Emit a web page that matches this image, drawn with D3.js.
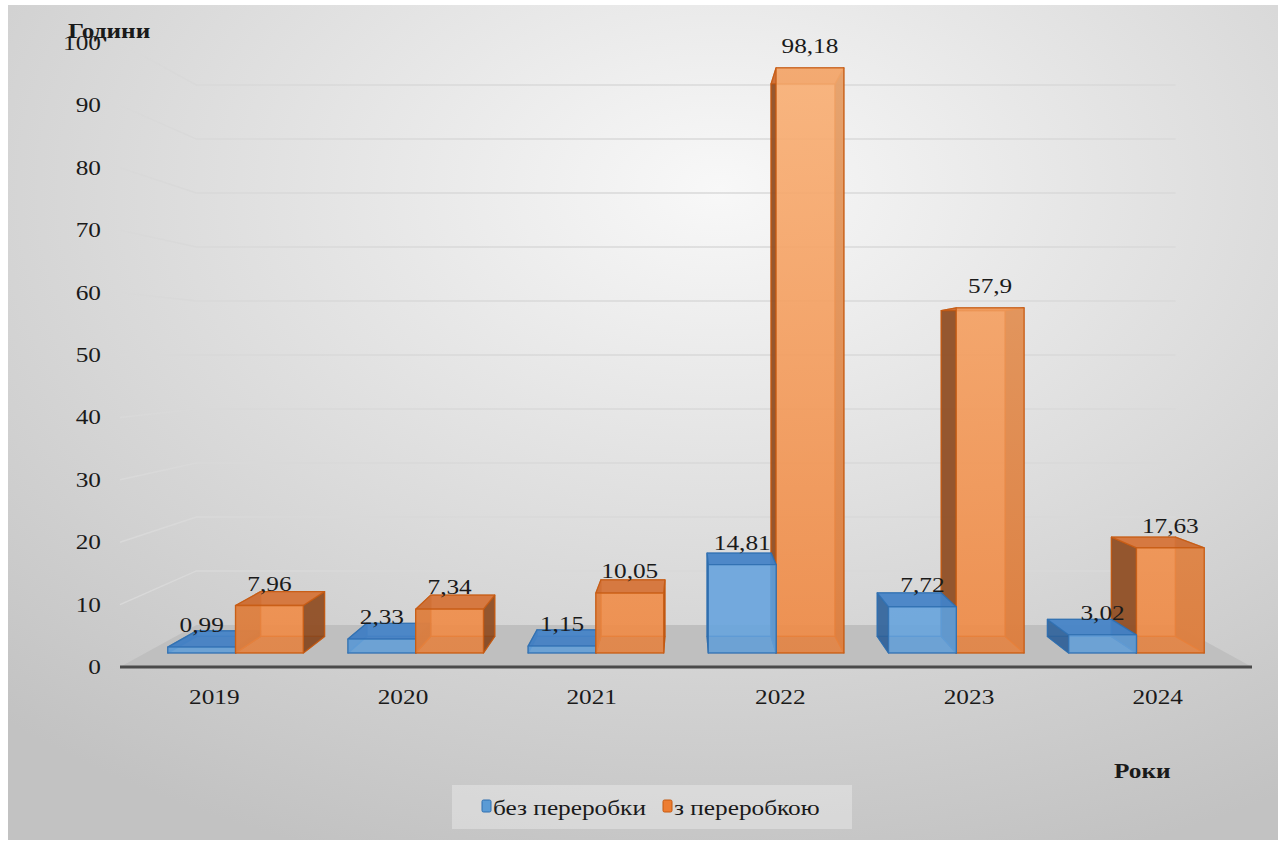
<!DOCTYPE html>
<html>
<head>
<meta charset="utf-8">
<script src="https://cdn.jsdelivr.net/npm/d3@7"></script>
<style>
  body { margin: 0; background: #fff; }
  text { font-family: "Liberation Serif", "Times New Roman", serif; fill: #1a1a1a; }
</style>
</head>
<body>
<div id="chart"></div>
<script>
const width = 1284, height = 843;

// data
const years = ["2019", "2020", "2021", "2022", "2023", "2024"];
const seriesKeys = ["bez", "z"];
const seriesNames = ["без переробки", "з переробкою"];
const withoutProcessing = [0.99, 2.33, 1.15, 14.81, 7.72, 3.02];
const withProcessing = [7.96, 7.34, 10.05, 98.18, 57.9, 17.63];
const yTicks = [0, 10, 20, 30, 40, 50, 60, 70, 80, 90, 100];

// perspective: vanishing point and depth scale of bar faces / back wall
const vx = 686, vy = 355;
const sFront = 0.955, sBack = 0.902, sWall = 0.865;
const stretch = 1.15; // text in the picture is a bit wide

const svg = d3.select("#chart").append("svg")
  .attr("width", width).attr("height", height);

const defs = svg.append("defs");
const bg = defs.append("radialGradient").attr("id", "bg")
  .attr("cx", "56%").attr("cy", "22%").attr("r", "85%");
bg.append("stop").attr("offset", "0%").attr("stop-color", "#f8f8f8");
bg.append("stop").attr("offset", "100%").attr("stop-color", "#c2c2c2");

const og = defs.append("linearGradient").attr("id", "orangeFront")
  .attr("gradientUnits", "userSpaceOnUse")
  .attr("x1", 0).attr("y1", 60).attr("x2", 0).attr("y2", 660);
og.append("stop").attr("offset", "0%").attr("stop-color", "#fab57c");
og.append("stop").attr("offset", "100%").attr("stop-color", "#ef8944");

svg.append("rect")
  .attr("x", 8).attr("y", 5).attr("width", 1270).attr("height", 835)
  .attr("fill", "url(#bg)");

// scales
const x0 = d3.scaleBand().domain(years).range([120, 1252]);
const x1 = d3.scaleBand().domain(seriesKeys).range([0, x0.bandwidth()]).paddingOuter(0.33);
const y = d3.scaleLinear().domain([0, 100]).range([667, 43]);

function proj(x, v, s) {
  return [vx + (x - vx) * s, vy + (y(v) - vy) * s];
}

function txt(g, x, yy, str, opts = {}) {
  const t = g.append("text")
    .attr("transform", `translate(${x},${yy}) scale(${stretch},1)`)
    .attr("text-anchor", opts.anchor || "middle")
    .style("font-size", (opts.size || 22) + "px")
    .text(str);
  if (opts.bold) t.style("font-weight", "bold");
  return t;
}

// floor
const xl = x0.range()[0], xr = x0.range()[1];
const floorPts = [proj(xl, 0, 1), proj(xr, 0, 1), proj(xr, 0, sWall), proj(xl, 0, sWall)];
svg.append("polygon")
  .attr("points", floorPts.map(p => p.join(",")).join(" "))
  .attr("fill", "#bfbfbf");

// gridlines on side wall and back wall
const grid = svg.append("g");
yTicks.filter(v => v > 0).forEach(v => {
  const a = proj(xl, v, 1), b = proj(xl, v, sWall), c = proj(xr, v, sWall);
  grid.append("polyline")
    .attr("points", [a, b, c].map(p => p.join(",")).join(" "))
    .attr("fill", "none")
    .attr("stroke", "#d9d9d9")
    .attr("stroke-width", 1.5);
});

// axis line
svg.append("line")
  .attr("x1", xl).attr("x2", xr)
  .attr("y1", y(0)).attr("y2", y(0))
  .attr("stroke", "#4a4a4a").attr("stroke-width", 3);

// y tick labels
const yAxis = svg.append("g");
yTicks.forEach(v => {
  txt(yAxis, 101, y(v) + 7, String(v), { anchor: "end" });
});

// x tick labels
const xAxis = svg.append("g");
years.forEach(yr => {
  txt(xAxis, x0(yr) + x0.bandwidth() / 2, 704, yr);
});

// bars
const styles = {
  bez: { front: "#6aa6de", top: "#4683c6", side: "#2f6098", back: "#5d98d2", stroke: "#2f6fb0" },
  z: { front: "url(#orangeFront)", top: "#d4733a", side: "#86461f", back: "#ee8a45", stroke: "#c55a11" }
};

const bars = [];
years.forEach((yr, i) => {
  [withoutProcessing[i], withProcessing[i]].forEach((v, j) => {
    const key = seriesKeys[j];
    const left = x0(yr) + x1(key);
    bars.push({ year: yr, key, v, left, right: left + x1.bandwidth() });
  });
});

// draw farther-from-center bars first
bars.sort((a, b) => Math.abs((b.left + b.right) / 2 - vx) - Math.abs((a.left + a.right) / 2 - vx));

const barG = svg.append("g");
bars.forEach(d => {
  const st = styles[d.key];
  const fbl = proj(d.left, 0, sFront), fbr = proj(d.right, 0, sFront);
  const ftl = proj(d.left, d.v, sFront), ftr = proj(d.right, d.v, sFront);
  const bbl = proj(d.left, 0, sBack), bbr = proj(d.right, 0, sBack);
  const btl = proj(d.left, d.v, sBack), btr = proj(d.right, d.v, sBack);
  const faces = [
    { pts: [bbl, bbr, btr, btl], fill: st.back, op: 0.55 },
    { pts: [fbl, fbr, bbr, bbl], fill: st.side, op: 0.5 },
    { pts: [fbl, bbl, btl, ftl], fill: st.side, op: 0.85 },
    { pts: [fbr, bbr, btr, ftr], fill: st.side, op: 0.85 },
    { pts: [ftl, ftr, btr, btl], fill: st.top, op: 0.9 },
    { pts: [fbl, fbr, ftr, ftl], fill: st.front, op: 0.8 }
  ];
  faces.forEach(f => {
    barG.append("polygon")
      .attr("points", f.pts.map(p => p.join(",")).join(" "))
      .attr("fill", f.fill)
      .attr("fill-opacity", f.op)
      .attr("stroke", st.stroke)
      .attr("stroke-opacity", 0.8)
      .attr("stroke-width", 1.3)
      .attr("stroke-linejoin", "round");
  });
});

// data labels
const labelG = svg.append("g");
bars.forEach(d => {
  const top = proj((d.left + d.right) / 2, d.v, sFront);
  txt(labelG, top[0], top[1] - 15, String(d.v).replace(".", ","));
});

// axis titles
txt(svg, 68, 38, "Години", { anchor: "start", bold: true });
txt(svg, 1114, 778, "Роки", { anchor: "start", bold: true });

// legend
const legend = svg.append("g");
legend.append("rect")
  .attr("x", 452).attr("y", 785).attr("width", 400).attr("height", 44)
  .attr("fill", "#ffffff").attr("fill-opacity", 0.3);
const legendX = [482, 663];
seriesKeys.forEach((k, j) => {
  legend.append("rect")
    .attr("x", legendX[j]).attr("y", 800).attr("width", 9).attr("height", 12)
    .attr("rx", 1.5)
    .attr("fill", j === 0 ? "#5b9bd5" : "#ed7d31")
    .attr("stroke", styles[k].stroke).attr("stroke-width", 1);
  txt(legend, legendX[j] + 11, 815, seriesNames[j], { anchor: "start" });
});
</script>
</body>
</html>
